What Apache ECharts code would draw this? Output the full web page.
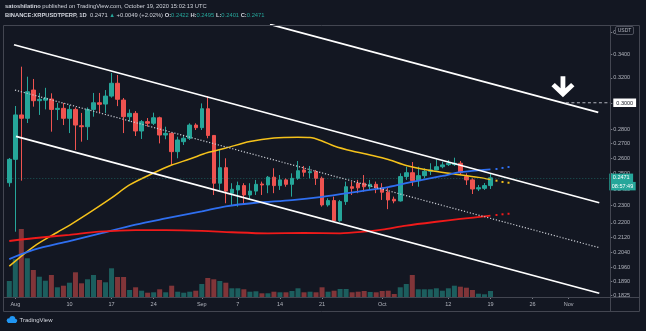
<!DOCTYPE html>
<html>
<head>
<meta charset="utf-8">
<script src="https://cdn.jsdelivr.net/npm/echarts@6.0.0/dist/echarts.min.js"></script>
<style>
html,body{margin:0;padding:0;background:#131722;overflow:hidden}
#chart{width:646px;height:331px}
</style>
</head>
<body>
<div id="chart"></div>
<script>
// ---------------- DATA ----------------
const firstDay = '2020-07-31';   // daily candles, consecutive days
const open = [.2440,.2592,.2907,.2882,.3100,.3016,.3020,.3029,.2949,.2957,
 .2882,.2949,.2827,.2820,.2949,.3000,.2990,.3052,.3155,.3021,
 .2894,.2919,.2789,.2857,.2845,.2886,.2760,.2772,.2644,.2713,
 .2737,.2832,.2813,.2954,.2757,.2437,.2537,.2375,.2395,.2422,
 .2364,.2388,.2432,.2426,.2475,.2422,.2458,.2430,.2468,.2522,
 .2504,.2511,.2468,.2304,.2330,.2212,.2324,.2415,.2437,.2437,
 .2415,.2430,.2408,.2381,.2338,.2328,.2479,.2504,.2453,.2485,
 .2513,.2522,.2543,.2557,.2557,.2566,.2479,.2458,.2401,.2405,
 .2422];
const high = [.2601,.2975,.3293,.3209,.3190,.3077,.3118,.3074,.2998,.2998,
 .2983,.2964,.2922,.2964,.3077,.3077,.3100,.3240,.3223,.3037,
 .2949,.2936,.2869,.2884,.2924,.2894,.2820,.2775,.2748,.2760,
 .2845,.2845,.2995,.3052,.2760,.2655,.2599,.2437,.2447,.2437,
 .2437,.2458,.2447,.2483,.2533,.2489,.2468,.2500,.2581,.2548,
 .2548,.2522,.2479,.2344,.2354,.2334,.2447,.2447,.2458,.2489,
 .2458,.2447,.2437,.2407,.2354,.2500,.2543,.2574,.2543,.2533,
 .2566,.2592,.2576,.2588,.2603,.2581,.2500,.2468,.2426,.2438,
 .2495];
const low = [.2415,.2150,.2453,.2847,.2970,.2907,.2949,.2784,.2869,.2832,
 .2774,.2655,.2713,.2725,.2894,.2922,.2922,.3040,.2974,.2774,
 .2857,.2753,.2732,.2820,.2832,.2701,.2730,.2555,.2599,.2690,
 .2725,.2796,.2796,.2737,.2364,.2395,.2314,.2304,.2294,.2304,
 .2334,.2364,.2364,.2375,.2375,.2395,.2415,.2354,.2458,.2479,
 .2468,.2426,.2294,.2294,.2206,.2206,.2304,.2364,.2375,.2384,
 .2395,.2375,.2334,.2279,.2314,.2324,.2458,.2420,.2415,.2468,
 .2489,.2520,.2533,.2548,.2548,.2489,.2426,.2370,.2388,.2395,
 .2401];
const close = [.2592,.2907,.2882,.3087,.3016,.3027,.3035,.2949,.2957,.2882,
 .2949,.2832,.2820,.2949,.3000,.2988,.3052,.3155,.3027,.2894,
 .2919,.2789,.2857,.2845,.2886,.2760,.2772,.2644,.2725,.2737,
 .2832,.2813,.2954,.2757,.2437,.2537,.2388,.2399,.2422,.2364,
 .2388,.2430,.2426,.2475,.2422,.2458,.2430,.2468,.2517,.2507,
 .2511,.2468,.2304,.2330,.2212,.2324,.2415,.2405,.2408,.2415,
 .2430,.2408,.2381,.2334,.2328,.2479,.2504,.2453,.2485,.2513,
 .2522,.2543,.2555,.2566,.2566,.2504,.2458,.2401,.2409,.2422,
 .2471];
const volume = [160,377,680,387,270,203,163,220,97,113,
 143,247,137,177,220,170,147,287,200,200,
 70,97,63,43,47,77,47,113,53,43,
 53,63,130,190,177,160,143,87,87,77,
 53,57,37,37,53,47,47,60,87,47,
 53,47,97,53,63,80,80,47,53,60,
 50,47,60,63,30,97,130,220,77,77,
 77,87,63,87,113,103,93,70,33,27,
 60];

const maYellowDates = ['2020-07-31','2020-08-04','2020-08-08','2020-08-10','2020-08-13','2020-08-17','2020-08-20','2020-08-24','2020-08-27','2020-08-30','2020-09-02','2020-09-05','2020-09-09','2020-09-13','2020-09-17','2020-09-19','2020-09-21','2020-09-23','2020-09-26','2020-09-29','2020-10-02','2020-10-05','2020-10-09','2020-10-13','2020-10-17','2020-10-19'];
const maYellow = [.1967,.2068,.2147,.2186,.2251,.2346,.2426,.2502,.2554,.2594,.2638,.2669,.2714,.2739,.2744,.2742,.2718,.2683,.2648,.2621,.2591,.2551,.2518,.2496,.2474,.2460];
const maBlueDates = ['2020-07-31','2020-08-04','2020-08-10','2020-08-15','2020-08-21','2020-08-26','2020-09-01','2020-09-05','2020-09-10','2020-09-16','2020-09-21','2020-09-27','2020-10-02','2020-10-06','2020-10-11','2020-10-14','2020-10-19'];
const maBlue = [.2003,.2051,.2099,.2140,.2190,.2225,.2266,.2296,.2317,.2333,.2353,.2385,.2413,.2445,.2483,.2508,.2526];
const maRedDates = ['2020-07-31','2020-08-04','2020-08-10','2020-08-15','2020-08-21','2020-08-26','2020-09-01','2020-09-06','2020-09-12','2020-09-18','2020-09-24','2020-09-28','2020-10-01','2020-10-05','2020-10-10','2020-10-14','2020-10-19'];
const maRed = [.2099,.2114,.2133,.2150,.2159,.2159,.2155,.2147,.2141,.2143,.2141,.2150,.2162,.2184,.2206,.2222,.2241];
const maDotDates = ['2020-10-20','2020-10-21','2020-10-22'];
const maYellowDots = [.2453,.2445,.2440];
const maBlueDots = [.2528,.2535,.2541];
const maRedDots = [.2245,.2249,.2252];

// drawn trend lines: [startTime, startPrice, endTime, endPrice]
const lineTopOuter = ['2020-09-12 08:10', .3673, '2020-11-05 22:05', .2927];
const lineChannelTop = ['2020-07-31 18:46', .3485, '2020-11-06 02:10', .2317];
const lineChannelBottom = ['2020-08-01 02:44', .2751, '2020-11-06 02:10', .1834];
const lineChannelMid = ['2020-07-31 22:45', .3100, '2020-11-06 02:10', .2063];
const targetLevel = ['2020-10-31 13:00', .3000, '2020-11-30 00:00', .3000];
const arrowPoint = ['2020-10-31 01:12', .3127];

// axis ticks
const xTickDates = ['2020-08-01','2020-08-10','2020-08-17','2020-08-24','2020-09-01','2020-09-07','2020-09-14','2020-09-21','2020-10-01','2020-10-12','2020-10-19','2020-10-26','2020-11-01'];
const yTickPrices = [0.36,0.34,0.32,0.30,0.28,0.27,0.26,0.25,0.24,0.23,0.22,0.212,0.204,0.196,0.189,0.1825];
const countdown = '08:57:49';

// ---------------- HELPERS / LAYOUT ----------------
const FONT = '"Liberation Sans", Arial, "DejaVu Sans", sans-serif';
const DAY = 86400000;
function T(s){const m=s.match(/(\d+)-(\d+)-(\d+)(?: (\d+):(\d+))?/);return Date.UTC(+m[1],+m[2]-1,+m[3],m[4]?+m[4]:0,m[5]?+m[5]:0);}
const LN = Math.log;
const t0 = T(firstDay);
const X_MIN = T('2020-07-30 12:00');
const X_MAX = X_MIN + 100.42*DAY;
const PRICE_MIN = 0.18163, PRICE_MAX = 0.36674;
const GRID = {left:6.29, top:25, width:604, height:272};
const PX_PER_LN = GRID.height/(LN(PRICE_MAX)-LN(PRICE_MIN));
const UP='#26a69a', DOWN='#ef5350';
const f4 = v => v.toFixed(4);

const candleData = open.map((o,i)=>[t0+i*DAY, LN(o), LN(close[i]), LN(low[i]), LN(high[i])]);
const volData = volume.map((v,i)=>({value:[t0+i*DAY, v], itemStyle:{color: close[i]>=open[i]?'rgba(38,166,154,0.5)':'rgba(239,83,80,0.5)'}}));
const maLine = (ds, vs) => ds.map((d,i)=>[T(d), LN(vs[i])]);
const seg = a => [[T(a[0]), LN(a[1])],[T(a[2]), LN(a[3])]];

const last = close.length-1;
const chg = close[last]-close[last-1];
const pct = chg/close[last-1]*100;
const monthNames = ['Jan','Feb','Mar','Apr','May','Jun','Jul','Aug','Sep','Oct','Nov','Dec'];

const titleText =
 '{b|satoshilatino}{n| published on TradingView.com, October 19, 2020 15:02:13 UTC}\n' +
 '{b|BINANCE:XRPUSDTPERP, 1D}{n|  ' + f4(close[last]) + ' }{g|▲}{n| +' + f4(chg) + ' (+' + pct.toFixed(2) + '%) }' +
 '{b|O:}{g|' + f4(open[last]) + '}{b| H:}{g|' + f4(high[last]) + '}{b| L:}{g|' + f4(low[last]) + '}{b| C:}{g|' + f4(close[last]) + '}';

const TS = {fontFamily:FONT, fontSize:5.8, lineHeight:9};
const boxLabel = (txt, pad) => ({show:true, position:'end', distance:-1, formatter:txt, backgroundColor:UP, color:'#ffffff', fontSize:5.5, fontFamily:FONT, padding:pad});
const chart = echarts.init(document.getElementById('chart'), null, {renderer:'canvas'});
const option = {
  backgroundColor:'#131722',
  animation:false,
  title:{left:5, top:2, padding:0, text:titleText,
    textStyle:{...TS, color:'#d1d4dc', fontWeight:'normal',
      rich:{b:{...TS, color:'#d1d4dc', fontWeight:'bold'}, n:{...TS, color:'#d1d4dc', fontWeight:'normal'}, g:{...TS, color:UP, fontWeight:'normal'}}}},
  grid:GRID,
  xAxis:{type:'value', min:X_MIN, max:X_MAX, axisLine:{show:false}, splitLine:{show:false},
    axisTick:{show:true, length:2, lineStyle:{color:'#787b86'}, customValues:xTickDates.map(T)},
    axisLabel:{customValues:xTickDates.map(T), color:'#b2b5be', fontSize:5.5, fontFamily:FONT, margin:4,
      formatter:v=>{const d=new Date(v);return d.getUTCDate()===1?monthNames[d.getUTCMonth()]:String(d.getUTCDate());}}},
  yAxis:[
    {type:'value', position:'right', min:LN(PRICE_MIN), max:LN(PRICE_MAX), axisLine:{show:false}, splitLine:{show:false},
     axisTick:{show:true, length:2, lineStyle:{color:'#787b86'}, customValues:yTickPrices.map(LN)},
     axisLabel:{customValues:yTickPrices.map(LN), color:'#b2b5be', fontSize:5.5, fontFamily:FONT, margin:3,
       formatter:v=>{const p=Math.exp(v); const s=f4(p); return Math.abs(p-targetLevel[1])<1e-6?'{hl|'+s+'}':s;},
       rich:{hl:{backgroundColor:'#ffffff', color:'#131722', fontSize:5.5, fontFamily:FONT, padding:[1.5,3,1,3]}}}},
    {type:'value', min:0, max:2720, show:false}
  ],
  series:[
    {type:'bar', name:'Volume', yAxisIndex:1, data:volData, barWidth:5, z:1, silent:true},
    {type:'candlestick', name:'XRPUSDTPERP', data:candleData, encode:{x:0, y:[1,2,3,4]}, barWidth:4, z:3,
     itemStyle:{color:UP, color0:DOWN, borderColor:UP, borderColor0:DOWN, borderWidth:1},
     markLine:{symbol:['none','none'], silent:true, animation:false, precision:10,
       data:[
         {yAxis:LN(close[last]), lineStyle:{color:'rgba(38,166,154,0.45)', type:[1,2], width:1},
          label:boxLabel(f4(close[last]), [1.5,3.5,1,3.5])},
         {yAxis:LN(close[last])-8.3/PX_PER_LN, lineStyle:{color:'rgba(0,0,0,0)', width:0},
          label:boxLabel(countdown, [1.5,2.5,1,2.5])}
       ]}},
    {type:'line', name:'MA yellow', data:maLine(maYellowDates,maYellow), smooth:0.3, showSymbol:false, z:4, lineStyle:{color:'#f5c21b', width:1.5}},
    {type:'line', name:'MA blue', data:maLine(maBlueDates,maBlue), smooth:0.3, showSymbol:false, z:4, lineStyle:{color:'#2f6ff0', width:1.8}},
    {type:'line', name:'MA red', data:maLine(maRedDates,maRed), smooth:0.3, showSymbol:false, z:4, lineStyle:{color:'#f01a1a', width:1.8}},
    {type:'scatter', data:maLine(maDotDates,maYellowDots), symbol:'rect', symbolSize:2, itemStyle:{color:'#f5c21b', opacity:1}, z:4, silent:true},
    {type:'scatter', data:maLine(maDotDates,maBlueDots), symbol:'rect', symbolSize:2, itemStyle:{color:'#2f6ff0', opacity:1}, z:4, silent:true},
    {type:'scatter', data:maLine(maDotDates,maRedDots), symbol:'rect', symbolSize:2, itemStyle:{color:'#f01a1a', opacity:1}, z:4, silent:true},
    {type:'line', data:seg(lineTopOuter), showSymbol:false, z:5, lineStyle:{color:'#ffffff', width:1.8}},
    {type:'line', data:seg(lineChannelTop), showSymbol:false, z:5, lineStyle:{color:'#ffffff', width:1.8}},
    {type:'line', data:seg(lineChannelBottom), showSymbol:false, z:5, lineStyle:{color:'#ffffff', width:1.8}},
    {type:'line', data:seg(lineChannelMid), showSymbol:false, z:5, lineStyle:{color:'#c9ccd3', width:1.2, type:[1.2,1.8]}},
    {type:'line', data:seg(targetLevel), showSymbol:false, z:5, lineStyle:{color:'#b2b5be', width:1, type:[3,2.5]}},
    {type:'scatter', data:[[T(arrowPoint[0]), LN(arrowPoint[1])]], z:6, silent:true,
     symbol:'path://M9.5,0 L14.5,0 L14.5,12.5 L20.5,7 L24,10.5 L12,22 L0,10.5 L3.5,7 L9.5,12.5 Z',
     symbolSize:[23,21], itemStyle:{color:'#ffffff', opacity:1}}
  ],
  graphic:[
    {type:'rect', z:100, silent:true, shape:{x:3.5, y:25.5, width:636, height:286}, style:{fill:'none', stroke:'#434651', lineWidth:1}},
    {type:'line', z:100, silent:true, shape:{x1:3.5, y1:297.5, x2:639.5, y2:297.5}, style:{stroke:'#434651', lineWidth:1}},
    {type:'line', z:100, silent:true, shape:{x1:610.5, y1:25.5, x2:610.5, y2:311.5}, style:{stroke:'#434651', lineWidth:1}},
    {type:'rect', z:101, silent:true, shape:{x:615.5, y:26.5, width:18, height:8, r:1.5}, style:{fill:'#131722', stroke:'#5d606b', lineWidth:0.8}},
    {type:'text', z:102, silent:true, x:624.5, y:30.7, style:{text:'USDT', fill:'#b2b5be', font:'5px '+FONT, textAlign:'center', textVerticalAlign:'middle'}},
    {type:'circle', z:102, silent:true, shape:{cx:9, cy:320.5, r:2.3}, style:{fill:'#2196f3'}},
    {type:'circle', z:102, silent:true, shape:{cx:12.3, cy:319, r:3}, style:{fill:'#2196f3'}},
    {type:'circle', z:102, silent:true, shape:{cx:15.2, cy:320.8, r:2}, style:{fill:'#2196f3'}},
    {type:'rect', z:102, silent:true, shape:{x:8, y:320.5, width:8, height:2.5}, style:{fill:'#2196f3'}},
    {type:'text', z:102, silent:true, x:19.5, y:320, style:{text:'TradingView', fill:'#d1d4dc', font:'6px '+FONT, textVerticalAlign:'middle'}}
  ]
};
chart.setOption(option);
</script>
</body>
</html>
